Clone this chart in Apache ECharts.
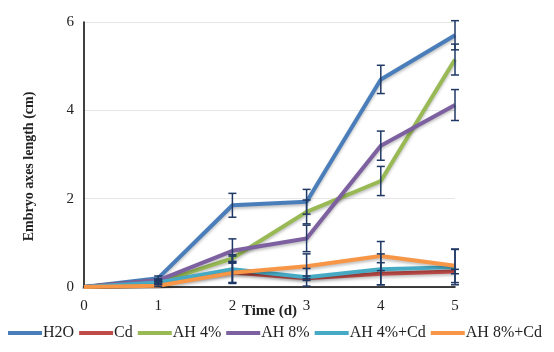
<!DOCTYPE html>
<html>
<head>
<meta charset="utf-8">
<script src="https://cdn.jsdelivr.net/npm/echarts@6/dist/echarts.min.js"></script>
<style>
  html, body { margin: 0; padding: 0; background: #fff; }
  #chart { width: 554px; height: 352px; }
</style>
</head>
<body>
<div id="chart"></div>
<script>
// days
const days = [0, 1, 2, 3, 4, 5]
const seriesNames = ['H2O', 'Cd', 'AH 4%', 'AH 8%', 'AH 4%+Cd', 'AH 8%+Cd']
const colors = ['#4a7ebb', '#be4b48', '#98b954', '#7d60a0', '#46aac5', '#f79646']

// mean lengths (cm)
const h2o = [0, 0.2, 1.85, 1.93, 4.7, 5.7]
const cd = [0, 0.15, 0.33, 0.2, 0.3, 0.35]
const ah4 = [0, 0.1, 0.65, 1.7, 2.4, 5.15]
const ah8 = [0, 0.15, 0.82, 1.1, 3.2, 4.12]
const ah4cd = [0, 0.1, 0.4, 0.22, 0.4, 0.45]
const ah8cd = [0, 0.03, 0.32, 0.47, 0.7, 0.48]

// standard errors
const h2oErr = [0, 0.05, 0.27, 0.28, 0.32, 0.33]
const cdErr = [0, 0.03, 0.25, 0.05, 0.25, 0.05]
const ah4Err = [0, 0.03, 0.08, 0.27, 0.33, 0.35]
const ah8Err = [0, 0.03, 0.27, 0.3, 0.33, 0.35]
const ah4cdErr = [0, 0.02, 0.3, 0.2, 0.35, 0.4]
const ah8cdErr = [0, 0.02, 0.22, 0.28, 0.33, 0.38]

const means = [h2o, cd, ah4, ah8, ah4cd, ah8cd]
const errs = [h2oErr, cdErr, ah4Err, ah8Err, ah4cdErr, ah8cdErr]

const chart = echarts.init(document.getElementById('chart'))

const serif = 'Liberation Serif'

// 误差线
function errorSeries(vals, err) {
  return {
    type: 'custom',
    silent: true,
    z: 5,
    data: days.map((d, i) => [d, vals[i] - err[i], vals[i] + err[i]]).filter((v, i) => err[i] > 0 && i > 0),
    renderItem(params, api) {
      const lo = api.coord([api.value(0), api.value(1)])
      const hi = api.coord([api.value(0), api.value(2)])
      const w = 4
      const style = { stroke: '#1f3864', lineWidth: 1.5 }
      return {
        type: 'group',
        children: [
          { type: 'line', shape: { x1: hi[0], y1: hi[1], x2: lo[0], y2: lo[1] }, style },
          { type: 'line', shape: { x1: hi[0] - w, y1: hi[1], x2: hi[0] + w, y2: hi[1] }, style },
          { type: 'line', shape: { x1: lo[0] - w, y1: lo[1], x2: lo[0] + w, y2: lo[1] }, style }
        ]
      }
    }
  }
}

const series = []
means.forEach((vals, k) => {
  series.push({
    name: seriesNames[k],
    type: 'line',
    data: days.map((d, i) => [d, vals[i]]),
    symbol: 'none',
    z: 3,
    lineStyle: {
      width: 4,
      color: colors[k],
      shadowColor: 'rgba(0,0,0,0.25)',
      shadowBlur: 3,
      shadowOffsetY: 2
    },
    itemStyle: { color: colors[k] }
  })
})
means.forEach((vals, k) => series.push(errorSeries(vals, errs[k])))

chart.setOption({
  animation: false,
  backgroundColor: '#fff',
  grid: { left: 84, right: 99, top: 22, bottom: 65 },
  legend: {
    data: seriesNames,
    top: 325,
    left: 8,
    width: 546,
    padding: 0,
    itemWidth: 34,
    itemHeight: 4,
    itemGap: 5,
    icon: 'rect',
    textStyle: { fontFamily: serif, fontSize: 16, color: '#222', padding: [0, 0, 0, -4] }
  },
  xAxis: {
    type: 'value',
    min: 0,
    max: 5,
    interval: 1,
    name: 'Time (d)',
    nameLocation: 'middle',
    nameGap: 17,
    nameMoveOverlap: false,
    nameTextStyle: { fontFamily: serif, fontSize: 15, fontWeight: 'bold', color: '#222' },
    axisLine: { lineStyle: { color: '#000', width: 1.5 } },
    axisTick: { show: false },
    splitLine: { show: false },
    axisLabel: { fontFamily: serif, fontSize: 15, color: '#222', margin: 12 }
  },
  yAxis: {
    type: 'value',
    min: 0,
    max: 6,
    interval: 2,
    name: 'Embryo axes length (cm)',
    nameLocation: 'middle',
    nameGap: 48,
    nameMoveOverlap: false,
    nameTextStyle: { fontFamily: serif, fontSize: 14, fontWeight: 'bold', color: '#222', padding: [0, 24, 0, 0] },
    axisLine: { show: true, lineStyle: { color: '#000', width: 1.5 } },
    axisTick: { show: false },
    splitLine: { lineStyle: { color: '#e6e6e6', width: 1 } },
    axisLabel: { fontFamily: serif, fontSize: 15, color: '#222', margin: 10 }
  },
  series
})
</script>
</body>
</html>
